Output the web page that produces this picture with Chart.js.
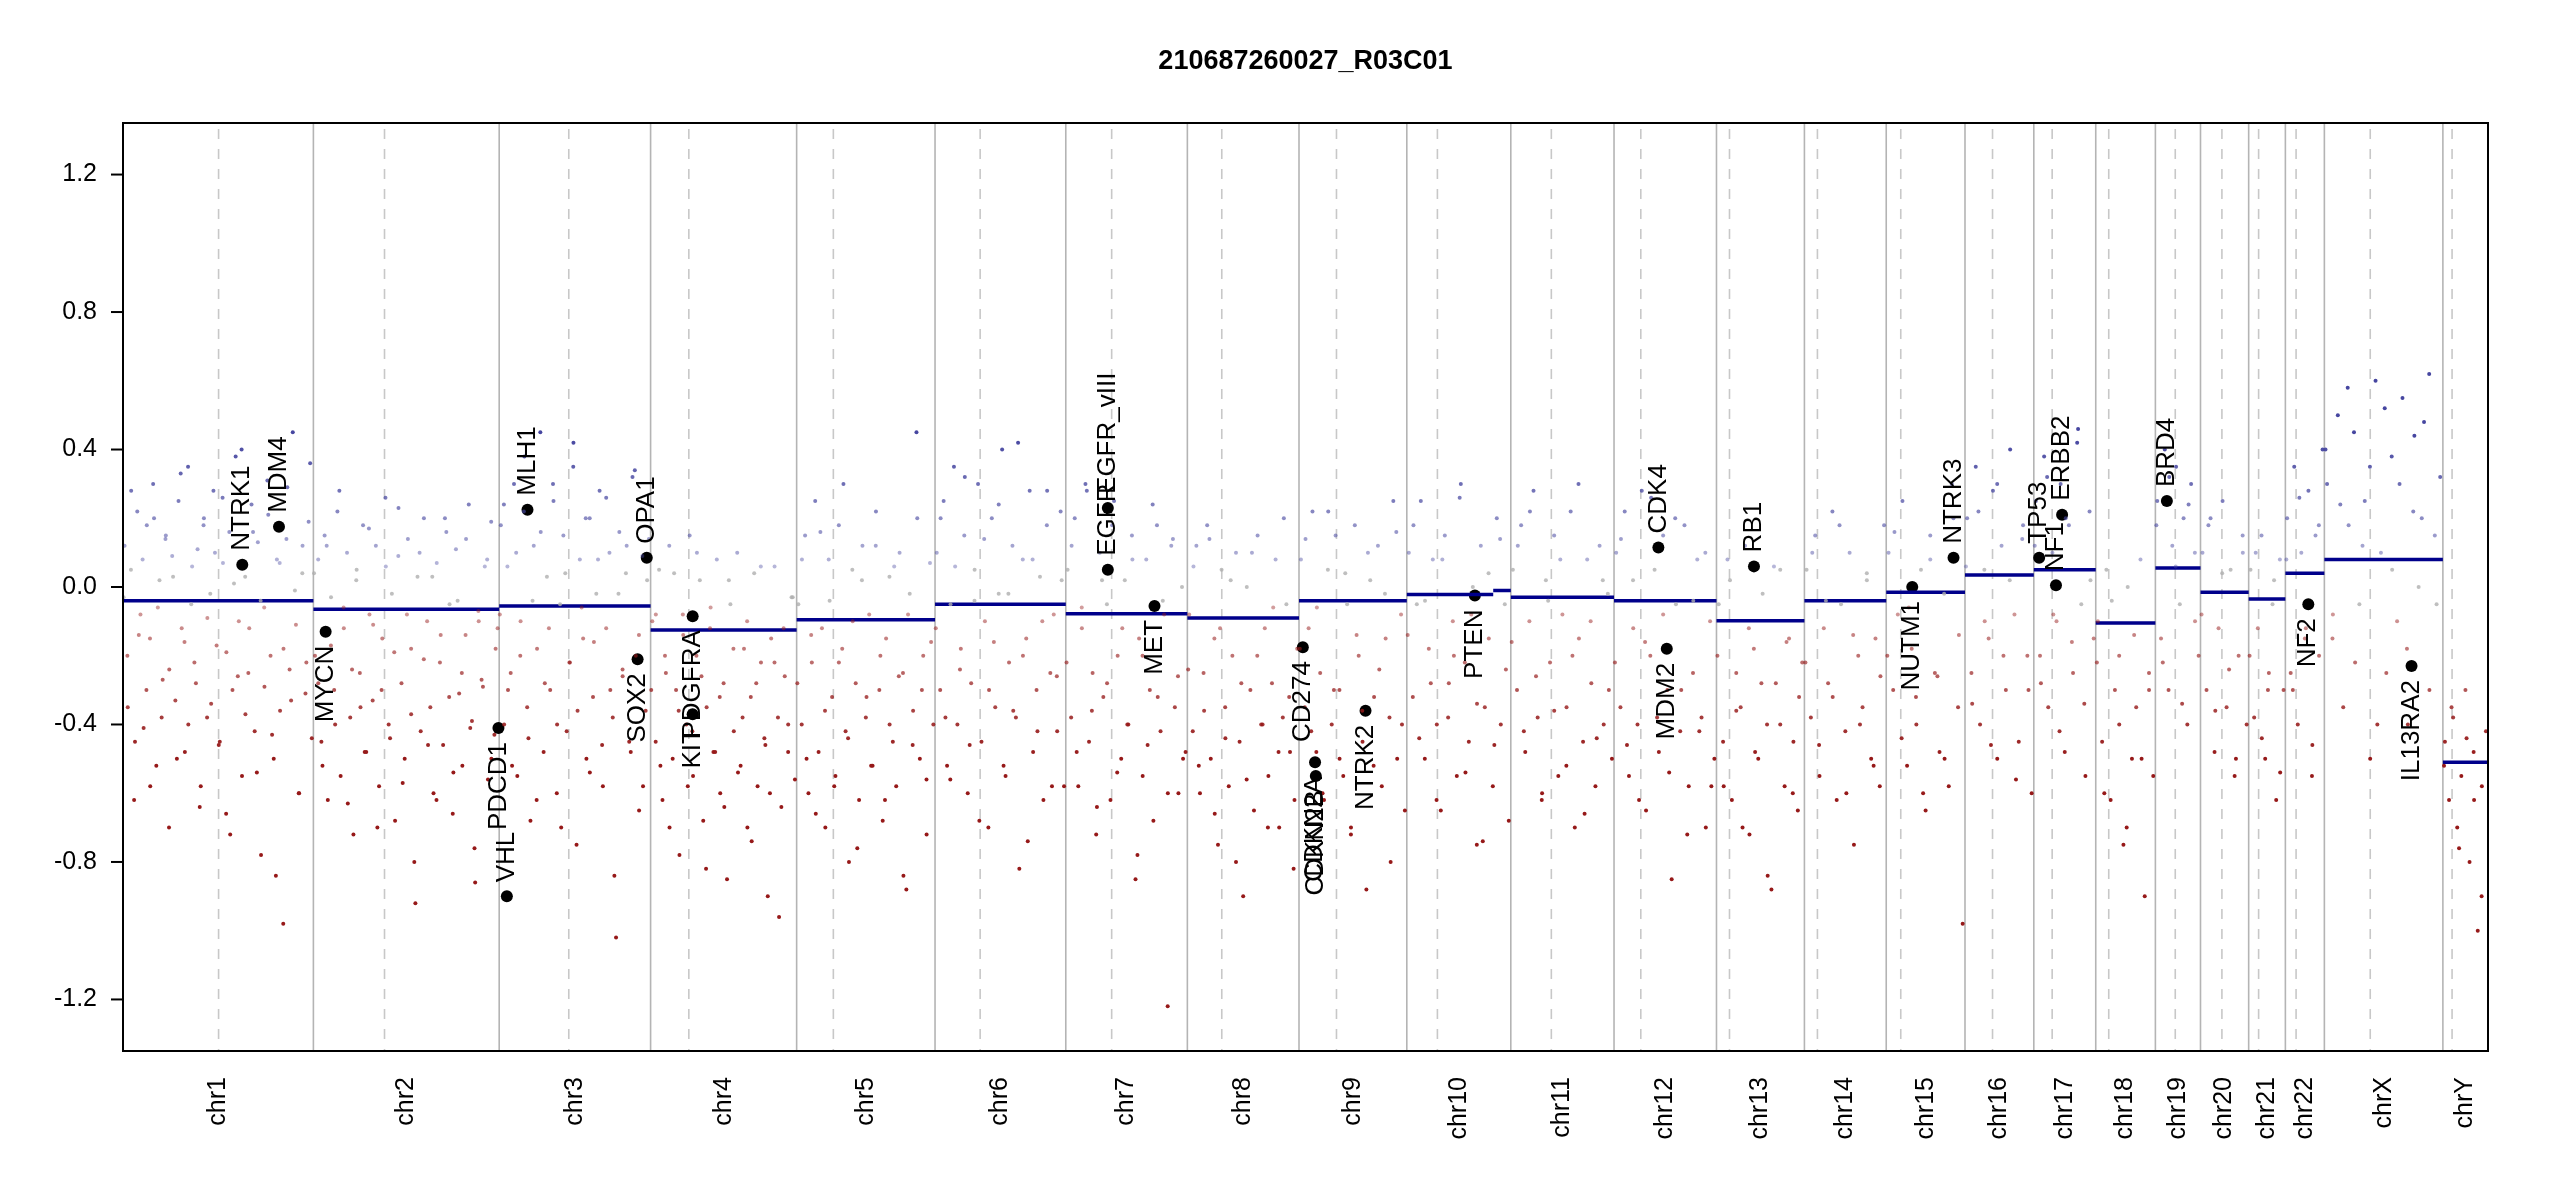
<!DOCTYPE html>
<html><head><meta charset="utf-8">
<script src="https://cdn.jsdelivr.net/npm/chart.js@4.4.1/dist/chart.umd.min.js"></script>
<style>html,body{margin:0;background:#fff}#wrap{width:2550px;height:1200px}</style>
</head><body><div id="wrap"><canvas id="c"></canvas></div>
<script>
const TITLE = '210687260027_R03C01';
const CHROMS = ['chr1','chr2','chr3','chr4','chr5','chr6','chr7','chr8','chr9','chr10','chr11','chr12','chr13','chr14','chr15','chr16','chr17','chr18','chr19','chr20','chr21','chr22','chrX','chrY'];
const CHR_LEN = [249,243,198,191,181,171,159,146,141,136,135,134,115,107,103,90,81,78,59,63,48,51,155,59];
const CENTRO  = [125,93,91,50,48,59,60,45,49,40,53,35,17,17,19,36,24,17,26,28,13,14,60,12];
const Y_TICKS = [-1.2,-0.8,-0.4,0.0,0.4,0.8,1.2];

// segment means: [chrom index, start Mb, end Mb, value]
const SEGMENTS = [
  [0,0,249,-0.04],[1,0,243,-0.065],[2,0,198,-0.055],[3,0,191,-0.125],[4,0,181,-0.095],
  [5,0,171,-0.05],[6,0,159,-0.078],[7,0,146,-0.09],[8,0,141,-0.04],[9,0,113,-0.022],
  [9,113,136,-0.01],[10,0,135,-0.03],[11,0,134,-0.04],[12,0,115,-0.098],[13,0,107,-0.04],
  [14,0,103,-0.015],[15,0,90,0.035],[16,0,81,0.05],[17,0,78,-0.105],[18,0,59,0.055],
  [19,0,63,-0.015],[20,0,48,-0.035],[21,0,51,0.04],[22,0,155,0.08],[23,0,59,-0.51]
];

// genes: [name, chrom index, Mb, value, label side]
const GENES = [
  ['NTRK1',0,156,0.065,'up'],['MDM4',0,204,0.175,'up'],['MYCN',1,16,-0.13,'down'],
  ['VHL',2,10,-0.9,'up'],['PDCD1',1,242,-0.41,'down'],['MLH1',2,37,0.225,'up'],
  ['SOX2',2,181,-0.21,'down'],['OPA1',2,193,0.085,'up'],['KIT',3,55,-0.37,'down'],
  ['PDGFRA',3,55,-0.085,'down'],['EGFR',6,55,0.05,'up'],['EGFR_vIII',6,55,0.23,'up'],
  ['MET',6,116,-0.055,'down'],['CD274',8,5,-0.175,'down'],['CDKN2A',8,21,-0.51,'down'],
  ['CDKN2B',8,22,-0.55,'down'],['NTRK2',8,87,-0.36,'down'],['PTEN',9,89,-0.025,'down'],
  ['CDK4',11,58,0.115,'up'],['MDM2',11,69,-0.18,'down'],['RB1',12,49,0.06,'up'],
  ['NUTM1',14,34,0.0,'down'],['NTRK3',14,88,0.085,'up'],['TP53',16,7,0.085,'up'],
  ['NF1',16,29,0.005,'up'],['ERBB2',16,37,0.21,'up'],['BRD4',18,15,0.25,'up'],
  ['NF2',21,30,-0.05,'down'],['IL13RA2',22,114,-0.23,'down']
];

// probe values per chromosome (hundredths)
const PROBES = [
  '12 -35 5 -62 22 -8 -41 18 -15 30 -52 2 -27 15 -70 9 -33 25 -12 -48 35 -5 -22 11 -58 20 -38 -2 28 -17 -45 7 -66 16 -30 38 -10 -55 3 -25 24 -42 13 -78 -6 31 -20 -50 8 -36 -98 14 -24 45 -11 -60 4 -31 19 -44',
  '-20 8 -45 15 -62 -3 -30 22 -55 -12 10 -38 -72 5 -25 18 -48 -8 -33 12 -58 -15 26 -40 -2 -68 9 -28 -50 14 -18 -80 3 -42 20 -10 -35 -60 7 -22 -46 16 -5 -66 11 -31 -52 -14 24 -39 -86 -7 -27 6 -56 19 -43 -12',
  '18 -40 6 -25 30 -55 -10 22 -35 -68 12 -18 45 -48 3 -30 25 -60 -5 15 -42 -22 35 -75 8 -15 -50 20 -32 -2 28 -58 -12 10 -38 -102 16 -26 4 -45 32 -20 -65 9 -36 14',
  '-10 -45 5 -62 -25 12 -50 -30 -78 -8 -40 15 -55 -20 2 -68 -35 -12 -48 8 -60 -28 -85 -5 -42 10 -52 -18 -70 -32 4 -58 -22 -44 -90 -15 6 -38 -64 -26 -48 -3 -56',
  '-5 -40 15 -60 -22 25 -48 -12 -70 8 -32 -55 18 -18 -42 -80 5 -28 -62 12 -38 -8 -52 22 -30 -68 -15 3 -45 -58 10 -25 -88 -2 -36 45 -50 -20 -72 7 -40',
  '10 -30 25 -52 -5 35 -40 -18 15 -60 -28 5 30 -45 -10 -70 20 -35 -2 40 -55 -22 12 -38 -82 8 -15 28 -48 -30 3 -62 18 -25 -8 -42 22 -58',
  '5 -38 20 -58 -12 30 -45 -25 -72 10 -32 -5 -62 25 -20 -50 2 -40 15 -85 -15 -55 8 -30 -68 18 -42 -8 -122 12 -35 -60 0 -48',
  '-8 -42 12 -60 -25 18 -50 -15 -75 5 -35 -58 -20 10 -45 -90 0 -30 -65 15 -40 -12 -55 -28 8 -70 -38 -5 -48 -82 -18',
  '8 -35 -12 22 -48 -25 -62 5 -40 15 -30 -55 -5 -70 18 -20 -45 -88 2 -32 12 -58 -15 -38 25 -50 -8 -65',
  '10 -32 -5 25 -50 -18 8 -40 -65 15 -28 -10 -55 30 -22 -45 0 -75 12 -35 -15 -58 20 -40 -5 -68',
  '5 -30 18 -48 -10 28 -38 -62 2 -22 15 -55 -8 -35 22 -70 -15 -45 8 -28 -58 12 -40 -2 -50',
  '10 -35 22 -55 -12 -40 28 -65 -20 5 -48 15 -30 -85 -5 -42 18 -58 -25 8 -38 -70 -10 -50',
  '-5 -45 8 -62 -25 -35 12 -72 -18 -50 -2 -40 -88 -28 5 -58 -15 -45 -65 -22',
  '5 -38 15 -55 -12 -28 22 -62 -5 -42 10 -75 -20 -35 2 -50 -15 -58 18',
  '10 -30 -8 25 -52 -18 -40 5 -65 15 -25 -48 -2 -58 20 -35 -98',
  '20 -25 35 -40 5 -15 28 -50 12 -30 40 -8 -45 18 -20 -60',
  '25 -20 38 -35 10 -10 30 -48 18 -25 42 -5 -55 22 -15',
  '-10 -45 5 -62 -30 -20 -75 0 -50 -35 8 -90 -25 -55',
  '25 -15 40 -30 12 35 -5 20 -40 30 10 -20',
  '10 -30 20 -48 -12 25 -35 5 -55 -20 15 -40',
  '5 -38 -12 15 -50 -25 -5 -62 8 -30',
  '20 -25 35 -40 10 -15 28 -55 15 -20 40',
  '30 -15 50 -35 18 45 -5 25 -50 60 10 -25 38 -10 55 -40 22 0 48 -30 15 32',
  '-45 -62 -38 -70 -55 -30 -80 -48 -100 -58 -42'
];
// second pass of probes, same layout, denser fill
const PROBES_B = [
  '-3 -20 28 -45 -14 8 -30 -58 20 -6 -38 14 -24 3 -50 33 -16 -40 6 -28 -64 18 -9 -34 10 -46 26 -19 -72 1 -26 40 -37 -12 16 -54 -4 -29 21 -43 -84 7 -18 29 -33 -1 -60 12 -22 36',
  '4 -28 -52 12 -17 -40 28 -6 -63 -24 2 -35 -48 17 -11 -70 -30 6 -44 -19 23 -57 -8 -37 -92 10 -21 -46 3 -62 -14 20 -32 -54 -4 -25 14 -41 -76 -10 -29 8 -50 -18',
  '-8 24 -30 -52 10 -20 38 -44 -4 -62 16 -28 -12 30 -40 -70 4 -22 42 -36 -6 20 -54 -16 8 -46 26 -30 -84 -2 -24 12 -48 34 -14 -58 2',
  '-30 -8 -52 -20 -70 4 -36 -14 -58 -42 10 -26 -82 -6 -48 -32 -64 2 -18 -54 -38 -10 -74 -28 6 -46 -60 -22 -96 -12 -40 -3',
  '-28 8 -50 -14 -66 16 -36 -4 -58 -22 30 -44 -10 -76 2 -32 -52 12 -20 -62 -40 6 -26 -84 -8 -46 20 -30 -56 -16',
  '-12 20 -38 -56 6 -24 32 -46 -4 -68 14 -30 -16 24 -52 -2 -36 42 -20 -74 8 -42 -10 28 -58 -26 2',
  '-22 12 -48 -6 28 -36 -64 2 -28 18 -54 -12 -40 8 -78 -20 -46 24 -32 -4 -60 14 -26 -50',
  '-24 6 -52 -36 14 -66 -12 -44 2 -80 -28 -56 10 -20 -40 -70 -6 -48 20 -32 -62',
  '-18 14 -42 -6 -60 22 -30 -50 4 -72 -14 -36 10 -52 -24 -2 -80 16 -40',
  '-14 18 -44 -4 -28 -62 8 -38 -20 26 -54 -8 -34 -74 4 -46 14 -24',
  '-16 12 -42 22 -26 -60 -4 -36 8 -52 -20 30 -66 -10 -44 2 -30',
  '-22 14 -46 2 -62 -16 26 -38 -8 -54 20 -30 -72 -4 -42 10 -58',
  '-20 -58 2 -36 -70 -12 -48 -28 -84 6 -40 -16 -60 -32',
  '-22 10 -46 -4 -32 18 -60 -14 -40 4 -52 -26',
  '-20 16 -44 -6 -32 -60 8 -26 -50 30 -14',
  '6 -34 22 -10 -46 30 -20 2 -56 14 -30',
  '12 -28 32 -8 -42 20 -16 46 -34 2',
  '-22 -60 -4 -40 -70 -14 -50 -30',
  '18 -22 32 6 -34 24 -10',
  '-8 18 -36 4 -24 -50 10',
  '-20 10 -44 -30 2 -54',
  '8 -30 26 -12 -46 18',
  '40 -8 24 58 -22 12 35 -40 52 5 30 -18 44 20 62 -5',
  '-52 -35 -76 -44 -62 -90'
];

const OFFSET = [];
let acc = 0;
CHR_LEN.forEach(l => { OFFSET.push(acc); acc += l; });
const TOTAL = acc;

function probeColor(v) {
  if (v > 0.05) { const a = Math.min(1, 0.3 + v * 1.6); return `rgba(70,70,160,${a})`; }
  if (v < -0.05) { const a = Math.min(1, 0.35 + (-v) * 1.3); return `rgba(150,25,25,${a})`; }
  return 'rgba(175,175,175,0.8)';
}

const probePts = [];
[[PROBES, 0.5], [PROBES_B, 0.15]].forEach(([set, shift]) => {
  set.forEach((s, ci) => {
    const vals = s.trim().split(/\s+/).map(Number);
    vals.forEach((v, i) => {
      probePts.push({ x: OFFSET[ci] + CHR_LEN[ci] * (i + shift) / vals.length, y: v / 100 });
    });
  });
});
const segPts = [];
SEGMENTS.forEach(([c, a, b, v]) => {
  segPts.push({ x: OFFSET[c] + a, y: v }, { x: OFFSET[c] + b, y: v }, { x: OFFSET[c] + b, y: null });
});
const genePts = GENES.map(g => ({ x: OFFSET[g[1]] + g[2], y: g[3] }));

const FONT = '"Liberation Sans", Arial, sans-serif';

const decor = {
  id: 'decor',
  beforeDatasetsDraw(chart) {
    const { ctx, chartArea: a, scales: { x } } = chart;
    ctx.save();
    ctx.lineWidth = 1.6;
    CHROMS.forEach((c, i) => {
      if (i > 0) {
        const px = x.getPixelForValue(OFFSET[i]);
        ctx.strokeStyle = '#b4b4b4'; ctx.setLineDash([]);
        ctx.beginPath(); ctx.moveTo(px, a.top); ctx.lineTo(px, a.bottom); ctx.stroke();
      }
      const cx = x.getPixelForValue(OFFSET[i] + CENTRO[i]);
      ctx.strokeStyle = '#c8c8c8'; ctx.setLineDash([10, 10]);
      ctx.beginPath(); ctx.moveTo(cx, a.top + 6); ctx.lineTo(cx, a.bottom); ctx.stroke();
    });
    ctx.restore();
  },
  afterDraw(chart) {
    const { ctx, chartArea: a, scales: { x, y } } = chart;
    ctx.save();
    ctx.strokeStyle = '#000'; ctx.lineWidth = 2; ctx.setLineDash([]);
    ctx.strokeRect(a.left, a.top, a.right - a.left, a.bottom - a.top);
    ctx.font = `25px ${FONT}`; ctx.fillStyle = '#000';
    ctx.textAlign = 'right'; ctx.textBaseline = 'middle';
    Y_TICKS.forEach(t => {
      const py = y.getPixelForValue(t);
      ctx.beginPath(); ctx.moveTo(a.left - 12, py); ctx.lineTo(a.left, py); ctx.stroke();
      ctx.fillText(t.toFixed(1), a.left - 26, py);
    });
    CHROMS.forEach((c, i) => {
      const px = x.getPixelForValue(OFFSET[i] + CHR_LEN[i] / 2);
      ctx.save(); ctx.translate(px, a.bottom + 26); ctx.rotate(-Math.PI / 2);
      ctx.textAlign = 'right'; ctx.textBaseline = 'middle';
      ctx.fillText(c, 0, 0); ctx.restore();
    });
    ctx.font = `26px ${FONT}`;
    GENES.forEach(g => {
      const px = x.getPixelForValue(OFFSET[g[1]] + g[2]);
      const py = y.getPixelForValue(g[3]);
      ctx.save(); ctx.translate(px, py); ctx.rotate(-Math.PI / 2);
      ctx.textBaseline = 'middle';
      if (g[4] === 'up') { ctx.textAlign = 'left'; ctx.fillText(g[0], 14, 0); }
      else { ctx.textAlign = 'right'; ctx.fillText(g[0], -14, 0); }
      ctx.restore();
    });
    ctx.font = `bold 27px ${FONT}`; ctx.textAlign = 'center'; ctx.textBaseline = 'middle';
    ctx.fillText(TITLE, (a.left + a.right) / 2, 62);
    ctx.restore();
  }
};

new Chart(document.getElementById('c'), {
  type: 'scatter',
  data: {
    datasets: [
      { data: probePts, pointRadius: 2, pointBorderWidth: 0,
        pointBackgroundColor: probePts.map(p => probeColor(p.y)) },
      { type: 'line', data: segPts, borderColor: '#00008b', borderWidth: 3.5,
        pointRadius: 0, spanGaps: false, fill: false },
      { data: genePts, pointRadius: 6, pointBackgroundColor: '#000', pointBorderWidth: 0 }
    ]
  },
  options: {
    responsive: true, maintainAspectRatio: false, animation: false,
    layout: { padding: { left: 123, right: 62, top: 123, bottom: 149 } },
    plugins: { legend: { display: false }, tooltip: { enabled: false } },
    scales: {
      x: { type: 'linear', min: 0, max: TOTAL, display: false },
      y: { type: 'linear', min: -1.35, max: 1.35, display: false }
    }
  },
  plugins: [decor]
});
</script></body></html>
